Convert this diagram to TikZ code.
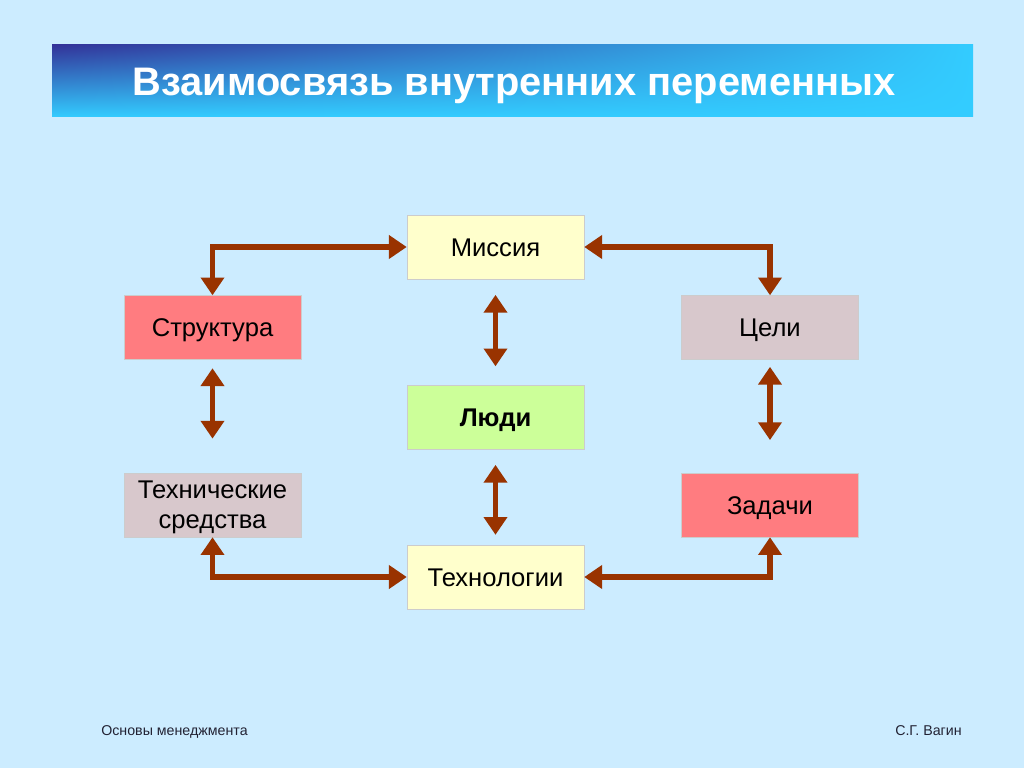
\documentclass[tikz,border=0pt]{standalone}
\usepackage{fontspec}
\setmainfont{Liberation Sans}
\usetikzlibrary{arrows.meta,shadings}
\tikzset{% change default arrow tips
    >={Triangle[width=16pt,length=12.5pt]}
}
\definecolor{bgblue}{HTML}{CCECFF}
\definecolor{titledark}{HTML}{333399}
\definecolor{titlelight}{HTML}{33CCFF}
\definecolor{arrowbrown}{HTML}{993300}
\definecolor{paleyellow}{HTML}{FFFFCC}
\definecolor{palegreen}{HTML}{CCFF99}
\definecolor{salmon}{HTML}{FF7C80}
\definecolor{greypink}{HTML}{D8C8CC}
\definecolor{footgrey}{HTML}{222233}

\begin{document}
\begin{tikzpicture}[x=0.703125pt,y=-0.703125pt,
    box/.style={rectangle, minimum width=124.5pt, minimum height=45pt,
        draw=white!80!black, line width=0.3pt, font=\fontsize{18}{20}\selectfont,
        align=center, inner sep=1pt, text height=14pt, text depth=1pt},
    link/.style={<->, draw=arrowbrown, line width=3.6pt, arrows={[fill=arrowbrown]}},
    foot/.style={text=footgrey, font=\fontsize{10}{12}\selectfont, inner sep=0pt}]

    % page and title bar
    \fill[bgblue] (0,0) rectangle (1024,768);
    \useasboundingbox (0,0) rectangle (1024,768);
    \shade[upper left=titledark, upper right=titlelight, lower left=titlelight,
        lower right=titlelight] (52,45) rectangle (973,117);
    \node[text=white, font=\bfseries\fontsize{28}{30}\selectfont] (title) at (514,86)
        {Взаимосвязь внутренних переменных};

    % boxes
    \node[box, fill=paleyellow] (missia) at (495.5,247) {Миссия};
    \node[box, fill=palegreen, font=\bfseries\fontsize{18}{20}\selectfont] (ljudi) at (495.5,417) {Люди};
    \node[box, fill=paleyellow] (tehnol) at (495.5,577) {Технологии};
    \node[box, fill=salmon] (strukt) at (212.5,327.5) {Структура};
    \node[box, fill=greypink] (celi) at (770,327.5) {Цели};
    \node[box, fill=greypink, font=\fontsize{18}{21}\selectfont, text height=, text depth=,
        inner ysep=0pt] (tehsr) at (212.5,505) {\raisebox{-2pt}[\height][\depth]{\begin{tabular}{@{}c@{}}Технические\\средства\end{tabular}}};
    \node[box, fill=salmon] (zadachi) at (770,505) {Задачи};

    % arrows
    \draw[link] (strukt.north) |- (missia.west);
    \draw[link] (celi.north) |- (missia.east);
    \draw[link] (tehsr.south) |- (tehnol.west);
    \draw[link] (zadachi.south) |- (tehnol.east);
    \draw[link, shorten <=11pt, shorten >=13pt] (missia) -- (ljudi);
    \draw[link, shorten <=11pt, shorten >=7pt] (ljudi) -- (tehnol);
    \draw[link, shorten <=6pt, shorten >=24pt] (strukt) -- (tehsr);
    \draw[link, shorten <=5pt, shorten >=23pt] (celi) -- (zadachi);

    % footer
    \node[foot, anchor=base west] (course) at (101,735) {Основы менеджмента};
    \node[foot, anchor=base east] (author) at (962,735) {С.Г. Вагин};
\end{tikzpicture}
\end{document}
